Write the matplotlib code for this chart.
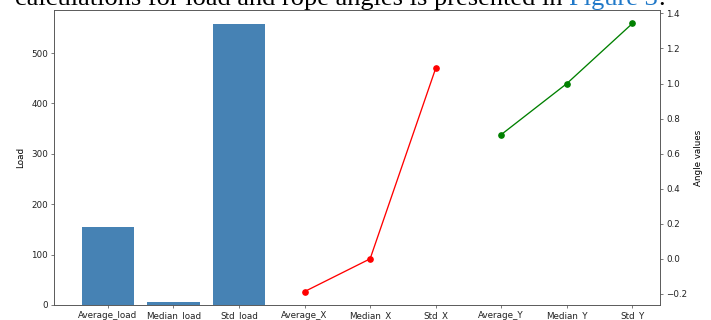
import matplotlib
matplotlib.use("Agg")
import matplotlib.pyplot as plt

# Load statistics (bars, left axis)
load_labels = ["Average_load", "Median_load", "Std_load"]
load_values = [154.0, 5.0, 557.5]

# Rope angle statistics (lines, right axis)
x_labels = ["Average_X", "Median_X", "Std_X"]
x_values = [-0.187, 0.0, 1.087]
y_labels = ["Average_Y", "Median_Y", "Std_Y"]
y_values = [0.709, 1.0, 1.343]

caption_text = "calculations for load and rope angles is presented in "
caption_link = "Figure 3"

fs = 6.3
plt.rcParams.update({
    "font.size": fs,
    "axes.linewidth": 0.55,
    "xtick.major.width": 0.55,
    "ytick.major.width": 0.55,
    "xtick.major.size": 2.2,
    "ytick.major.size": 2.2,
    "xtick.major.pad": 2.2,
    "ytick.major.pad": 2.2,
    "axes.edgecolor": "#555555",
    "xtick.color": "#555555",
    "ytick.color": "#555555",
    "xtick.labelcolor": "#222222",
    "ytick.labelcolor": "#222222",
})

fig = plt.figure(figsize=(7.11, 3.2), dpi=100)
ax = fig.add_axes([54 / 711, 15 / 320, (660 - 54) / 711, (305 - 10) / 320])

all_labels = load_labels + x_labels + y_labels
ax.bar(load_labels, load_values, width=0.8, color="steelblue")
ax.set_ylabel("Load", fontsize=fs, labelpad=4)

ax2 = ax.twinx()
ax2.plot(x_labels, x_values, color="red", marker="o", linewidth=0.95, markersize=3.8)
ax2.plot(y_labels, y_values, color="green", marker="o", linewidth=0.95, markersize=3.8)
ax2.set_ylabel("Angle values", fontsize=fs, labelpad=5)

ax.set_xticks(range(len(all_labels)))
ax.set_xticklabels(all_labels)

# Caption line of the surrounding text, partly above the figure edge
cap_fs = 19
cap_y = (320 - 5.0) / 320
t1 = fig.text(15 / 711, cap_y, caption_text, fontsize=cap_fs, family="Liberation Serif",
              color="black", va="baseline", ha="left")
fig.canvas.draw()
r = fig.canvas.get_renderer()
bb = t1.get_window_extent(r)
t2 = fig.text(bb.x1 / fig.bbox.width, cap_y, caption_link, fontsize=cap_fs,
              family="Liberation Serif", color="#1f78c8", va="baseline", ha="left")
fig.canvas.draw()
bb2 = t2.get_window_extent(r)
fig.text(bb2.x1 / fig.bbox.width, cap_y, ".", fontsize=cap_fs, family="Liberation Serif",
         color="black", va="baseline", ha="left")

fig.savefig("out.png", dpi=100)
